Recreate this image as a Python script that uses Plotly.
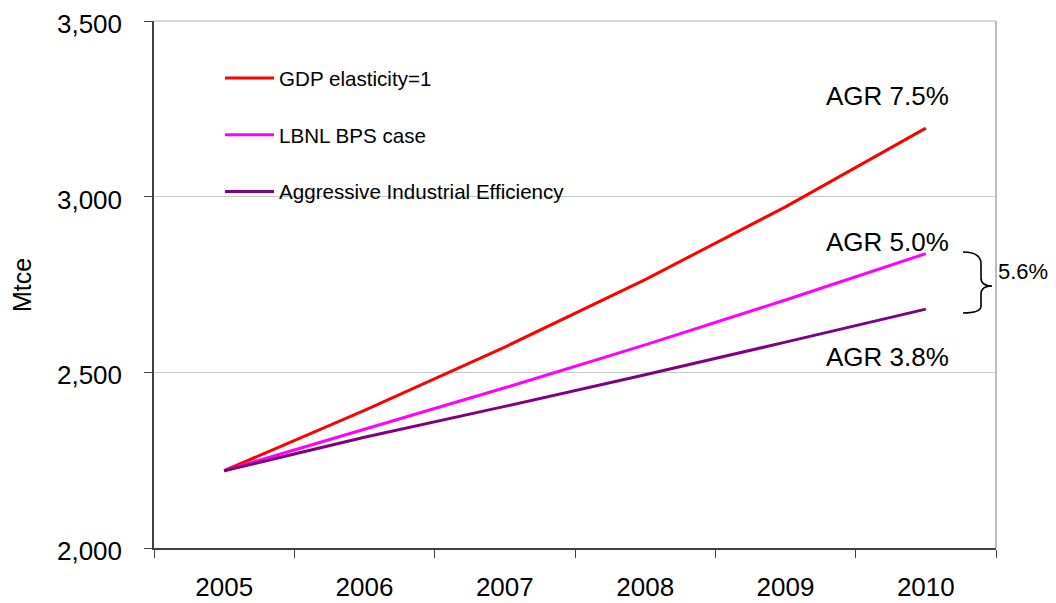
import plotly.graph_objects as go

years = ["2005", "2006", "2007", "2008", "2009", "2010"]
gdp_elasticity = [2220, 2392, 2572, 2764, 2971, 3195]
lbnl_bps = [2220, 2338, 2456, 2578, 2706, 2838]
aggressive_eff = [2220, 2315, 2403, 2493, 2586, 2680]

series_names = ["GDP elasticity=1", "LBNL BPS case", "Aggressive Industrial Efficiency"]
series_colors = ["#FF0000", "#FF00FF", "#800080"]
agr_labels = ["AGR 7.5%", "AGR 5.0%", "AGR 3.8%"]
gap_label = "5.6%"
y_title = "Mtce"

FONT = "Liberation Sans, Arial, sans-serif"

OFF = 8  # page body margin offset
W, H = 1056 - 2 * OFF, 603 - OFF
# desired plot area in page pixels
L, R, T, B = 154, 996, 21, 548


def px(x):
    return (x - L) / (R - L)


def py(y):
    return (B - y) / (B - T)


fig = go.Figure()
for i, (name, vals, col) in enumerate(zip(series_names, [gdp_elasticity, lbnl_bps, aggressive_eff], series_colors)):
    fig.add_trace(go.Scatter(
        x=years, y=vals, mode="lines", name=name,
        line=dict(color=col, width=3),
        legendgroup=f"g{i}",
    ))

annotations = []
for lbl, yy in zip(agr_labels, [96, 242, 357]):
    annotations.append(dict(
        text=lbl, xref="paper", yref="paper", x=px(887), y=py(yy),
        xanchor="center", yanchor="middle", showarrow=False,
        font=dict(family=FONT, size=26, color="black"),
    ))
annotations.append(dict(
    text=gap_label, xref="paper", yref="paper", x=px(996), y=py(271),
    xanchor="left", yanchor="middle", showarrow=False,
    font=dict(family=FONT, size=22, color="black"),
))
annotations.append(dict(
    text=y_title, xref="paper", yref="paper", x=px(22), y=py(285),
    xanchor="center", yanchor="middle", showarrow=False, textangle=-90,
    font=dict(family=FONT, size=25, color="black"),
))

pts = [(963, 252), (981, 252), (981, 264), (981, 278), (981, 286), (992, 286),
       (981, 286), (981, 294), (981, 306), (981, 313), (963, 313)]
P = [(px(a), py(b)) for a, b in pts]
path = (f"M {P[0][0]},{P[0][1]} Q {P[1][0]},{P[1][1]} {P[2][0]},{P[2][1]} "
        f"L {P[3][0]},{P[3][1]} Q {P[4][0]},{P[4][1]} {P[5][0]},{P[5][1]} "
        f"Q {P[6][0]},{P[6][1]} {P[7][0]},{P[7][1]} L {P[8][0]},{P[8][1]} "
        f"Q {P[9][0]},{P[9][1]} {P[10][0]},{P[10][1]}")

shapes = [
    dict(type="rect", xref="paper", yref="paper", x0=px(192), x1=px(599), y0=py(215), y1=py(45),
         fillcolor="white", line=dict(width=0), layer="between"),
    dict(type="line", xref="paper", yref="paper", x0=0, x1=1, y0=1, y1=1,
         line=dict(color="#B4B4B4", width=1.2)),
    dict(type="line", xref="paper", yref="paper", x0=1, x1=1, y0=0, y1=1,
         line=dict(color="#A6A6A6", width=1.5)),
    dict(type="path", xref="paper", yref="paper", path=path,
         line=dict(color="black", width=1.6)),
]

fig.update_layout(
    width=W, height=H, autosize=False,
    margin=dict(l=L - OFF, r=W - (R - OFF), t=T - OFF, b=H - (B - OFF), autoexpand=False),
    paper_bgcolor="white", plot_bgcolor="white",
    font=dict(family=FONT, color="black"),
    showlegend=True,
    legend=dict(
        x=px(220), y=py(58), xanchor="left", yanchor="top",
        bgcolor="rgba(0,0,0,0)", font=dict(family=FONT, size=20.6),
        tracegroupgap=27, itemwidth=49,
    ),
    xaxis=dict(
        type="category", range=[-0.5, 5.5], tickson="boundaries", automargin=False,
        ticks="outside", ticklen=8, tickcolor="#404040", tickwidth=1.3,
        showline=True, linecolor="#404040", linewidth=1.5,
        showgrid=False, tickfont=dict(family=FONT, size=26),
        ticklabelstandoff=15, ticklabeloverflow="allow",
    ),
    yaxis=dict(
        range=[2000, 3500], dtick=500, tickformat=",", automargin=False,
        ticks="outside", ticklen=8, tickcolor="#404040", tickwidth=1.3,
        showline=True, linecolor="#404040", linewidth=1.5,
        showgrid=True, gridcolor="#C8C8C8", gridwidth=1, zeroline=False,
        tickfont=dict(family=FONT, size=26), ticklabelstandoff=17,
        ticklabelshift=3, ticklabeloverflow="allow",
    ),
    annotations=annotations,
    shapes=shapes,
)

fig.write_html("out.html")
